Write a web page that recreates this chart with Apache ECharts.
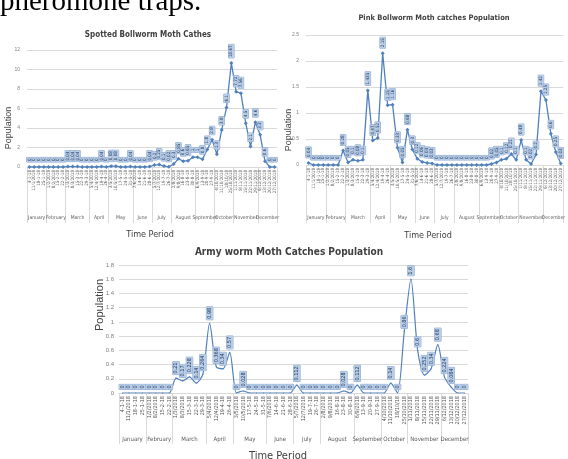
<!DOCTYPE html>
<html>
<head>
<meta charset="utf-8">
<script src="https://cdn.jsdelivr.net/npm/echarts@6/dist/echarts.min.js"></script>
<style>
  html, body { margin: 0; padding: 0; background: #fff; }
  #main { width: 568px; height: 459px; }
</style>
</head>
<body>
<div id="main"></div>
<script>
// weekly trap dates (x categories)
var weeks = ['4-1-18', '11/1/2018', '18-1-18', '25-1-18',
  '1/2/2018', '8/2/2018', '15-2-18', '22-2-18',
  '1/3/2018', '8/3/2018', '15-3-18', '22-3-18', '29-3-18',
  '5/4/2018', '12/4/2018', '19-4-18', '26-4-18',
  '3/5/2018', '10/5/2018', '17-5-18', '24-5-18', '31-5-18',
  '7/6/2018', '14-6-18', '21-6-18', '28-6-18',
  '5/7/2018', '12/7/2018', '19-7-18', '26-7-18',
  '2/8/2018', '9/8/2018', '16-8-18', '23-8-18', '30-8-18',
  '6/9/2018', '13-9-18', '20-9-18', '27-9-18',
  '4/10/2018', '11/10/2018', '18/10/18', '25/10/2018',
  '1/11/2018', '8/11/2018', '15/11/2018', '22/11/2018', '29/11/2018',
  '6/12/2018', '13/12/2018', '20/12/2018', '27/12/2018'];

var months = ['January', 'February', 'March', 'April', 'May', 'June', 'July',
  'August', 'September', 'October', 'November', 'December'];
var monthWeeks = [4, 4, 5, 4, 5, 4, 4, 5, 4, 4, 5, 4];

// Spotted bollworm
var spotted = [0, 0, 0, 0, 0, 0, 0, 0,
  0.04, 0.04, 0.04, 0, 0,
  0, 0, 0.04, 0,
  0.08, 0.08, 0, 0, 0.04,
  0, 0, 0, 0.04,
  0.2, 0.25, 0.1, 0.02,
  0.3, 0.85, 0.6, 0.65, 1,
  1, 0.8, 1.8, 2.8,
  1.3, 3.8, 6.1, 10.67,
  7.72, 7.56, 4.5, 2.1, 4.6,
  3.3, 0.6, 0, 0];

// Pink bollworm
var pink = [0.04, 0, 0, 0, 0, 0, 0, 0.28,
  0.05, 0.1, 0.08, 0.1, 1.435,
  0.47, 0.52, 2.15, 1.15,
  1.16, 0.33, 0.05, 0.68, 0.3,
  0.12, 0.06, 0.04, 0.03,
  0, 0, 0, 0,
  0, 0, 0, 0, 0,
  0, 0, 0.02, 0.05,
  0.1, 0.12, 0.21, 0.1,
  0.48, 0.1, 0.02, 0.2, 1.42,
  1.25, 0.6, 0.25, 0.03];

// Army worm
var army = [0, 0, 0, 0, 0, 0, 0, 0,
  0.21, 0.17, 0.228, 0.14, 0.264,
  0.98, 0.368, 0.34, 0.57,
  0, 0.028, 0, 0, 0,
  0, 0, 0, 0,
  0.112, 0, 0, 0,
  0, 0, 0, 0.028, 0,
  0.112, 0, 0, 0,
  0, 0.14, 0, 0.86,
  1.6, 0.6, 0.252, 0.34, 0.68,
  0.224, 0.084, 0, 0];

var myChart = echarts.init(document.getElementById('main'));

// month boundaries and label centres on a 0..52 week scale
var bounds = [0], centers = [];
monthWeeks.forEach(function (n) {
  var a = bounds[bounds.length - 1];
  centers.push(a + n / 2);
  bounds.push(a + n);
});
// split in two sets so neighbouring month names are not hidden as overlaps
var centersA = centers.filter(function (c, i) { return i % 2 === 0; });
var centersB = centers.filter(function (c, i) { return i % 2 === 1; });

var NARROW = '"Liberation Sans Narrow", "DejaVu Sans Condensed", "Liberation Sans", sans-serif';
var blue = '#4f81bd';

var grids = [
  {left: 27, top: 50, width: 250, height: 117},
  {left: 306, top: 35, width: 262, height: 130},
  {left: 119, top: 265, width: 349, height: 128}
];
var yMax = [12, 2.5, 1.8];
var yStep = [2, 0.5, 0.2];
var dateFont = [4.5, 4.5, 5.5];
var monthFont = [5, 5, 6];
var monthMargin = [48, 50, 43];
var tickLen = [56, 58, 51];
var yFont = [5, 5, 6];

var option = {
  animation: false,
  backgroundColor: '#fff',
  grid: grids,
  xAxis: [],
  yAxis: [],
  series: [],
  graphic: []
};

function monthAxis(k, vals, ticks) {
  return {
    type: 'value',
    gridIndex: k,
    position: 'bottom',
    min: 0, max: 52,
    axisLine: {show: false},
    splitLine: {show: false},
    axisTick: {
      show: ticks, customValues: bounds, length: tickLen[k],
      lineStyle: {color: '#d9d9d9', width: 1}
    },
    axisLabel: {
      customValues: vals, margin: monthMargin[k],
      showMinLabel: true, showMaxLabel: true, hideOverlap: false,
      fontSize: monthFont[k], color: '#595959', fontFamily: NARROW,
      formatter: function (v) {
        var i = centers.indexOf(v);
        return i >= 0 ? months[i] : '';
      }
    }
  };
}

var dateAxisIdx = [];
for (var k = 0; k < 3; k++) {
  dateAxisIdx.push(option.xAxis.length);
  option.xAxis.push({
    type: 'category',
    gridIndex: k,
    data: weeks,
    position: 'bottom',
    axisLine: {lineStyle: {color: '#d9d9d9'}},
    axisTick: {show: false},
    axisLabel: {
      interval: 0, rotate: 90, fontSize: dateFont[k], color: '#595959',
      fontFamily: NARROW, margin: 3
    }
  });
  option.xAxis.push(monthAxis(k, centersA, true));
  option.xAxis.push(monthAxis(k, centersB, false));
  option.yAxis.push({
    type: 'value',
    gridIndex: k,
    min: 0, max: yMax[k], interval: yStep[k],
    axisLine: {show: false},
    axisTick: {show: false},
    splitLine: {lineStyle: {color: '#d9d9d9', width: 1}},
    axisLabel: {fontSize: yFont[k], color: '#7f7f7f', margin: k === 2 ? 5 : 7}
  });
}

function labelStyle(size) {
  return {
    show: true,
    position: 'top',
    distance: 3,
    rotate: 90,
    align: 'left',
    verticalAlign: 'middle',
    fontSize: size,
    fontFamily: NARROW,
    color: '#1f3864',
    backgroundColor: '#b9cde5',
    borderColor: '#8eaad4',
    borderWidth: 0.5,
    padding: [0.5, 1, 0, 1]
  };
}

option.series.push({
  type: 'line', xAxisIndex: dateAxisIdx[0], yAxisIndex: 0, data: spotted,
  symbol: 'diamond', symbolSize: 4,
  lineStyle: {color: blue, width: 1.3},
  itemStyle: {color: blue},
  label: labelStyle(4.5)
});
option.series.push({
  type: 'line', xAxisIndex: dateAxisIdx[1], yAxisIndex: 1, data: pink,
  symbol: 'diamond', symbolSize: 4,
  lineStyle: {color: blue, width: 1.3},
  itemStyle: {color: blue},
  label: labelStyle(4.5)
});
option.series.push({
  type: 'line', xAxisIndex: dateAxisIdx[2], yAxisIndex: 2, data: army,
  symbol: 'circle', symbolSize: 1, smooth: 0.25,
  lineStyle: {color: blue, width: 1.2},
  itemStyle: {color: blue},
  label: labelStyle(5.5)
});

function txt(x, y, s, font, rot) {
  return {
    type: 'text', x: x, y: y, rotation: rot || 0,
    style: {text: s, font: font, fill: '#404040', align: 'center', verticalAlign: 'middle',
      textAlign: 'center', textVerticalAlign: 'middle'}
  };
}

option.graphic = [
  {type: 'text', x: 0, y: -12,
    style: {text: 'pheromone traps.', font: '29px "Liberation Serif", serif', fill: '#000'}},
  txt(148, 35, 'Spotted Bollworm Moth Cathes', 'bold 8px ' + NARROW),
  txt(434, 18, 'Pink Bollworm Moth catches Population', 'bold 7.5px ' + NARROW),
  txt(289, 252, 'Army worm Moth Catches Population', 'bold 10px ' + NARROW),
  txt(9, 128, 'Population', '9px "Liberation Sans", sans-serif', Math.PI / 2),
  txt(289, 130, 'Population', '9px "Liberation Sans", sans-serif', Math.PI / 2),
  txt(100, 305, 'Population', '11px "Liberation Sans", sans-serif', Math.PI / 2),
  txt(150, 235, 'Time Period', '9px ' + NARROW),
  txt(428, 236, 'Time Period', '9px ' + NARROW),
  txt(278, 456, 'Time Period', '11px ' + NARROW)
];

myChart.setOption(option);
</script>
</body>
</html>
